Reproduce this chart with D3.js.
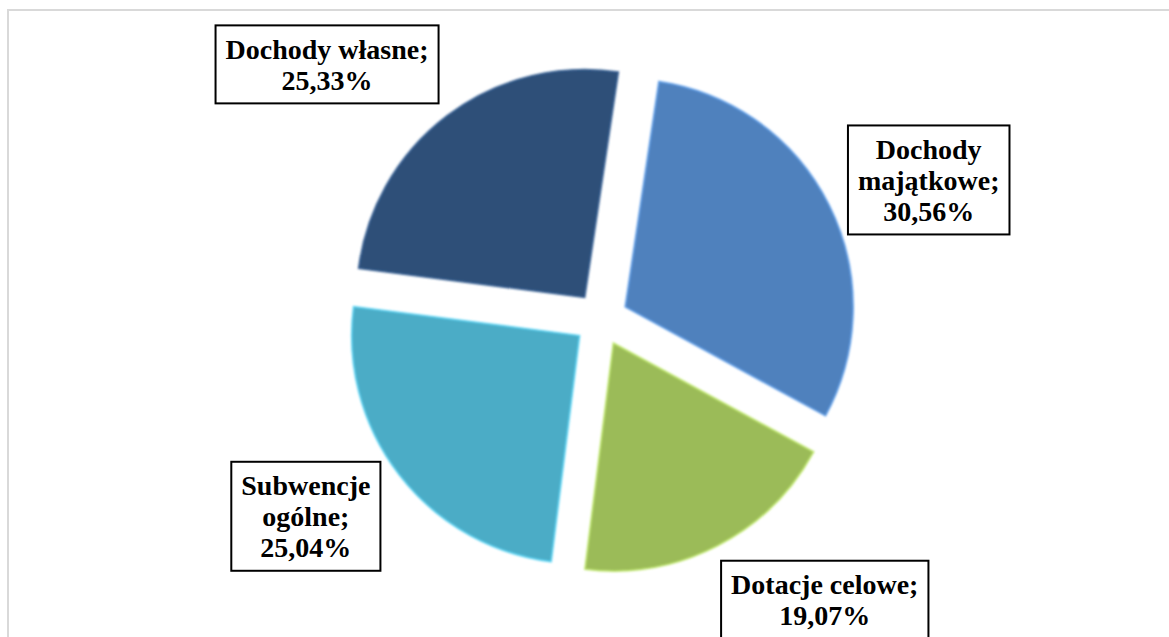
<!DOCTYPE html>
<html>
<head>
<meta charset="utf-8">
<script src="https://cdn.jsdelivr.net/npm/d3@7"></script>
<style>
body { margin: 0; background: white; }
svg { display: block; }
.lbl text {
    font-family: "Liberation Serif", "Times New Roman", serif;
    font-weight: bold;
    font-size: 28px;
    fill: black;
}
.lbl rect {
    fill: white;
    stroke: black;
    stroke-width: 2;
}
</style>
</head>
<body>
<div id="container"></div>
<script>
// data
var categories = ["Dochody majątkowe", "Dotacje celowe", "Subwencje ogólne", "Dochody własne"];
var values = [30.56, 19.07, 25.04, 25.33];
var labelLines = [["Dochody", "majątkowe;"], ["Dotacje celowe;"], ["Subwencje", "ogólne;"], ["Dochody własne;"]];
var colors = ["#4f81bd", "#9bbb59", "#4bacc6", "#2e4f78"];

// layout
var width = 1169, height = 637;
var cx = 601, cy = 319;
var radius = 228, explode = 27;
var startDeg = 8.5;
// label placement: angle nudge (deg) from slice middle, distance from centre
var labelNudge = [3.5, -11.4, 4, -10];
var labelDist = [356, 359, 355, 374];
var lineH = 31;

var pl = d3.formatLocale({decimal: ",", thousands: " ", grouping: [3], currency: ["", " zł"]});
var fmt = pl.format(".2f");

var svg = d3.select("#container").append("svg")
    .attr("width", width)
    .attr("height", height);

// outer frame (only top & left visible)
svg.append("line").attr("x1", 7).attr("y1", 10).attr("x2", width).attr("y2", 10)
    .attr("stroke", "#d9d9d9").attr("stroke-width", 2);
svg.append("line").attr("x1", 8).attr("y1", 10).attr("x2", 8).attr("y2", height)
    .attr("stroke", "#d9d9d9").attr("stroke-width", 2);

var defs = svg.append("defs");
defs.append("filter").attr("id", "soft")
    .append("feGaussianBlur").attr("stdDeviation", 1.1);

var rad = Math.PI / 180;
var pie = d3.pie().sort(null)
    .startAngle(startDeg * rad)
    .endAngle(startDeg * rad + 2 * Math.PI);
var arc = d3.arc().innerRadius(0).outerRadius(radius);

var arcs = pie(values);

var g = svg.append("g").attr("transform", `translate(${cx},${cy})`);

g.selectAll("path.slice")
    .data(arcs)
    .enter()
    .append("path")
    .attr("class", "slice")
    .attr("transform", function(d) {
        var p = d3.pointRadial((d.startAngle + d.endAngle) / 2, explode);
        return `translate(${p[0]},${p[1]})`;
    })
    .attr("d", arc)
    .attr("fill", function(d, i) { return colors[i]; })
    .attr("stroke", function(d, i) { return d3.color(colors[i]).brighter(0.6); })
    .attr("stroke-width", 1.5)
    .attr("filter", "url(#soft)");

var labels = g.selectAll("g.lbl")
    .data(arcs)
    .enter()
    .append("g")
    .attr("class", "lbl")
    .attr("transform", function(d, i) {
        var a = (d.startAngle + d.endAngle) / 2 + labelNudge[i] * rad;
        var p = d3.pointRadial(a, labelDist[i]);
        return `translate(${p[0]},${p[1]})`;
    });

labels.each(function(d, i) {
    var sel = d3.select(this);
    var lines = labelLines[i].concat([fmt(values[i]) + "%"]);
    var n = lines.length;
    var rect = sel.append("rect");
    var t = sel.append("text").attr("text-anchor", "middle");
    lines.forEach(function(s, k) {
        t.append("tspan")
            .attr("x", 0)
            .attr("y", (k - (n - 1) / 2) * lineH)
            .attr("dy", "0.35em")
            .text(s);
    });
    var bb = t.node().getBBox();
    var w = bb.width + 20, h = n * lineH + 16;
    rect.attr("x", -w / 2).attr("y", -h / 2).attr("width", w).attr("height", h);
});
</script>
</body>
</html>
